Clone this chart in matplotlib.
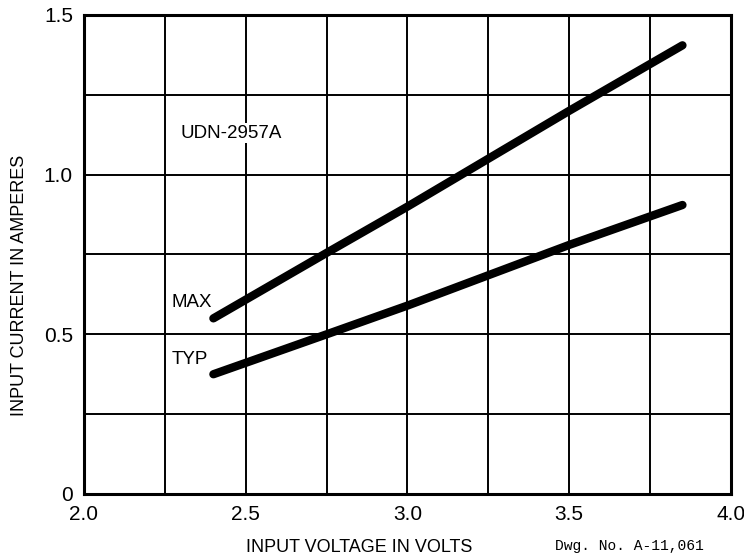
import matplotlib
matplotlib.use("Agg")
from matplotlib import pyplot as plt
import numpy as np

# data
volts = [2.40, 2.75, 3.00, 3.50, 3.85]
amps_max = [0.55, 0.755, 0.90, 1.20, 1.405]
amps_typ = [0.375, 0.50, 0.59, 0.78, 0.905]

x_ticks = [2.0, 2.5, 3.0, 3.5, 4.0]
x_tick_labels = ["2.0", "2.5", "3.0", "3.5", "4.0"]
y_ticks = [0, 0.5, 1.0, 1.5]
y_tick_labels = ["0", "0.5", "1.0", "1.5"]

plt.rcParams["font.family"] = ["Liberation Sans", "DejaVu Sans"]

fig = plt.figure(figsize=(7.44, 5.59), dpi=100)
ax = fig.add_axes([0.1129, 0.1163, 0.8696, 0.8569])

ax.set_xlim(2.0, 4.0)
ax.set_ylim(0, 1.5)

# grid every 0.25 in both directions
ax.set_xticks(np.arange(2.0, 4.01, 0.25), minor=True)
ax.set_yticks(np.arange(0, 1.51, 0.25), minor=True)
ax.grid(True, which="both", color="black", linewidth=1.4)
ax.set_axisbelow(True)

ax.set_xticks(x_ticks)
ax.set_xticklabels(x_tick_labels)
ax.set_yticks(y_ticks)
ax.set_yticklabels(y_tick_labels)
ax.tick_params(which="both", length=0, labelsize=15, pad=8)

for s in ax.spines.values():
    s.set_linewidth(2.2)

ax.plot(volts, amps_max, color="black", linewidth=6, solid_capstyle="round")
ax.plot(volts, amps_typ, color="black", linewidth=6, solid_capstyle="round")

ax.text(2.297, 1.13, "UDN-2957A", fontsize=13.5, va="center", ha="left",
        bbox=dict(facecolor="white", edgecolor="none", pad=1))
ax.text(2.272, 0.60, "MAX", fontsize=13.5, va="center", ha="left")
ax.text(2.272, 0.42, "TYP", fontsize=13.5, va="center", ha="left")

ax.set_xlabel("INPUT VOLTAGE IN VOLTS", fontsize=13)
ax.xaxis.set_label_coords(0.425, -0.095)
ax.set_ylabel("INPUT CURRENT IN AMPERES", fontsize=13)
ax.yaxis.set_label_coords(-0.086, 0.436)

fig.text(0.746, 0.01, "Dwg. No. A-11,061", fontsize=10.5,
         family="Liberation Mono", ha="left", va="bottom")

fig.savefig("out.png", dpi=100)
